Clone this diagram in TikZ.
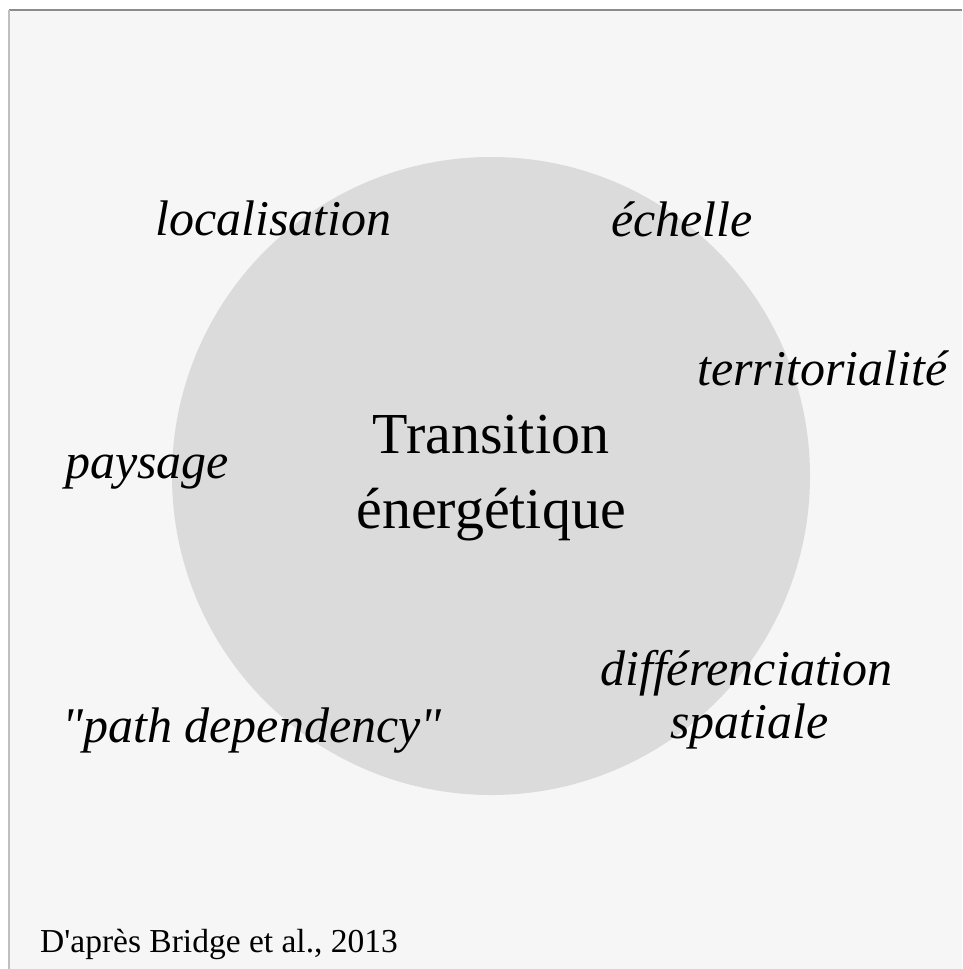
\documentclass[tikz,border=0pt]{standalone}
\usepackage{fontspec}
\setmainfont{Liberation Serif}
\newfontfamily\brut{Liberation Serif}
\begin{document}
\begin{tikzpicture}[x=1pt,y=-1pt,
  mot/.style={anchor=base west,inner sep=0pt,font=\brut\itshape\fontsize{50}{60}\selectfont}]

\useasboundingbox (0,0) rectangle (962,969);
\fill[white] (0,0) rectangle (962,969);
\fill[gray!7] (9,10) rectangle (962,969);
\draw[gray!90,line width=1.5pt] (9,10) -- (962,10);
\draw[gray!50,line width=1.5pt] (9,10) -- (9,969);

\draw(491,476) node[circle,fill=gray!28,inner sep=0pt,minimum size=638pt](1){};

\draw(491,528) node[anchor=base,align=center,inner sep=0pt,font=\brut\fontsize{58}{75}\selectfont](2){Transition\\énergétique};

\draw(155,235) node[mot](3){localisation};
\draw(611,236) node[mot](4){échelle};
\draw(697,385) node[mot](5){territorialité};
\draw(65,478) node[mot](6){paysage};
\draw(600,685) node[mot](7){différenciation};
\draw(670,738) node[mot](8){spatiale};
\draw(62,742) node[mot](9){"path dependency"};

\draw(40,952) node[anchor=base west,inner sep=0pt,font=\brut\fontsize{33.5}{40}\selectfont](10){D'après Bridge et al., 2013};

\end{tikzpicture}
\end{document}
